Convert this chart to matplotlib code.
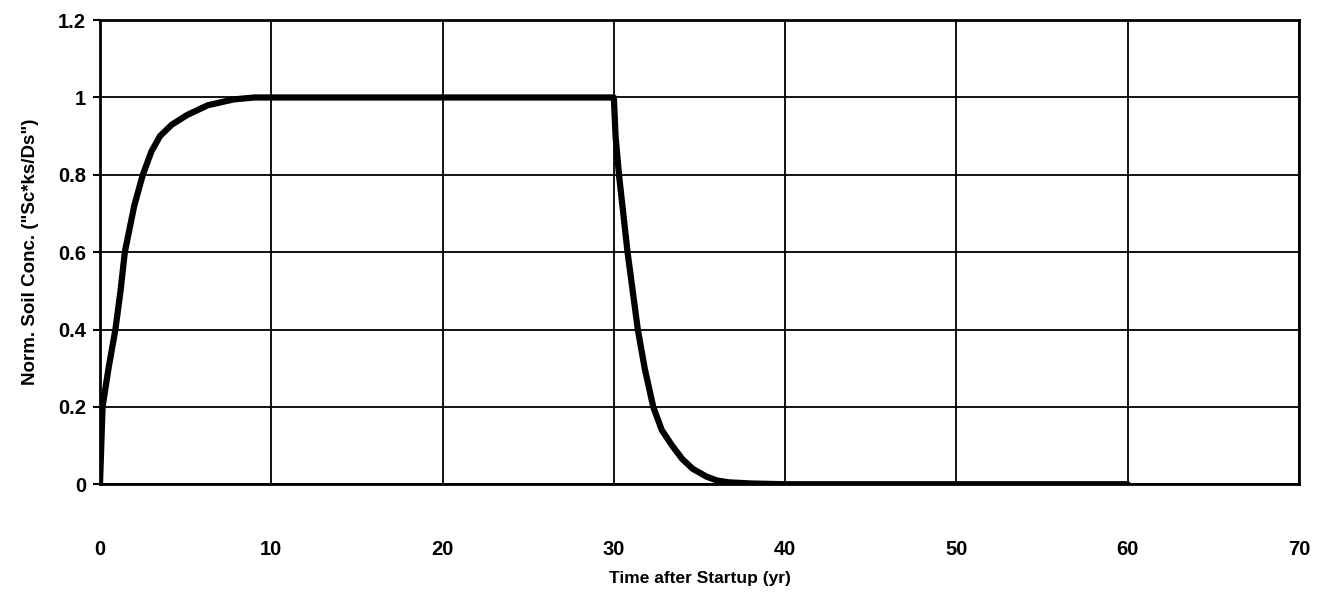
import numpy as np
import matplotlib.pyplot as plt

# --- Data ---
t_years = [0, 0.15, 0.5, 0.9, 1.2, 1.45, 2.0, 2.5, 3.0, 3.5, 4.2, 5.1,
           6.3, 7.8, 9.0, 10, 20, 30,
           30.1, 30.3, 30.8, 31.1, 31.4, 31.8, 32.3, 32.8, 33.4, 34.0,
           34.6, 35.4, 36.0, 36.7, 38.0, 40, 50, 60]
conc = [0, 0.2, 0.3, 0.4, 0.5, 0.6, 0.72, 0.8, 0.86, 0.9, 0.93, 0.955,
        0.98, 0.995, 1.0, 1.0, 1.0, 1.0,
        0.9, 0.8, 0.6, 0.5, 0.4, 0.3, 0.2, 0.14, 0.1, 0.065,
        0.04, 0.02, 0.01, 0.005, 0.002, 0.0, 0.0, 0.0]

x_ticks = [0, 10, 20, 30, 40, 50, 60, 70]
y_ticks = [0, 0.2, 0.4, 0.6, 0.8, 1, 1.2]
y_tick_labels = ["0", "0.2", "0.4", "0.6", "0.8", "1", "1.2"]

plt.rcParams['font.family'] = ['Liberation Sans', 'DejaVu Sans']

fig = plt.figure(figsize=(13.33, 5.92), dpi=100)
ax = fig.add_axes([0.075, 0.182, 0.8995, 0.784])

ax.plot(t_years, conc, color='black', linewidth=4.5, solid_capstyle='round',
        solid_joinstyle='round', zorder=3)

ax.set_xlim(0, 70)
ax.set_ylim(0, 1.2)
ax.set_xticks(x_ticks)
ax.set_yticks(y_ticks)
ax.set_yticklabels(y_tick_labels)
ax.grid(True, color='black', linewidth=1.3)

for s in ax.spines.values():
    s.set_linewidth(2)
    s.set_color('black')

ax.tick_params(axis='y', direction='out', length=5, width=1.5, pad=5,
               labelsize=14.5)
ax.tick_params(axis='x', direction='out', length=0, pad=40, labelsize=14.5)
for lbl in ax.get_xticklabels() + ax.get_yticklabels():
    lbl.set_fontweight('bold')

ax.set_xlabel('Time after Startup (yr)', fontsize=12.5, fontweight='bold',
              labelpad=9)
ax.set_ylabel('Norm. Soil Conc. ("Sc*ks/Ds")', fontsize=13.5,
              fontweight='bold', labelpad=14)

fig.savefig('out.png', dpi=100, facecolor='white')
